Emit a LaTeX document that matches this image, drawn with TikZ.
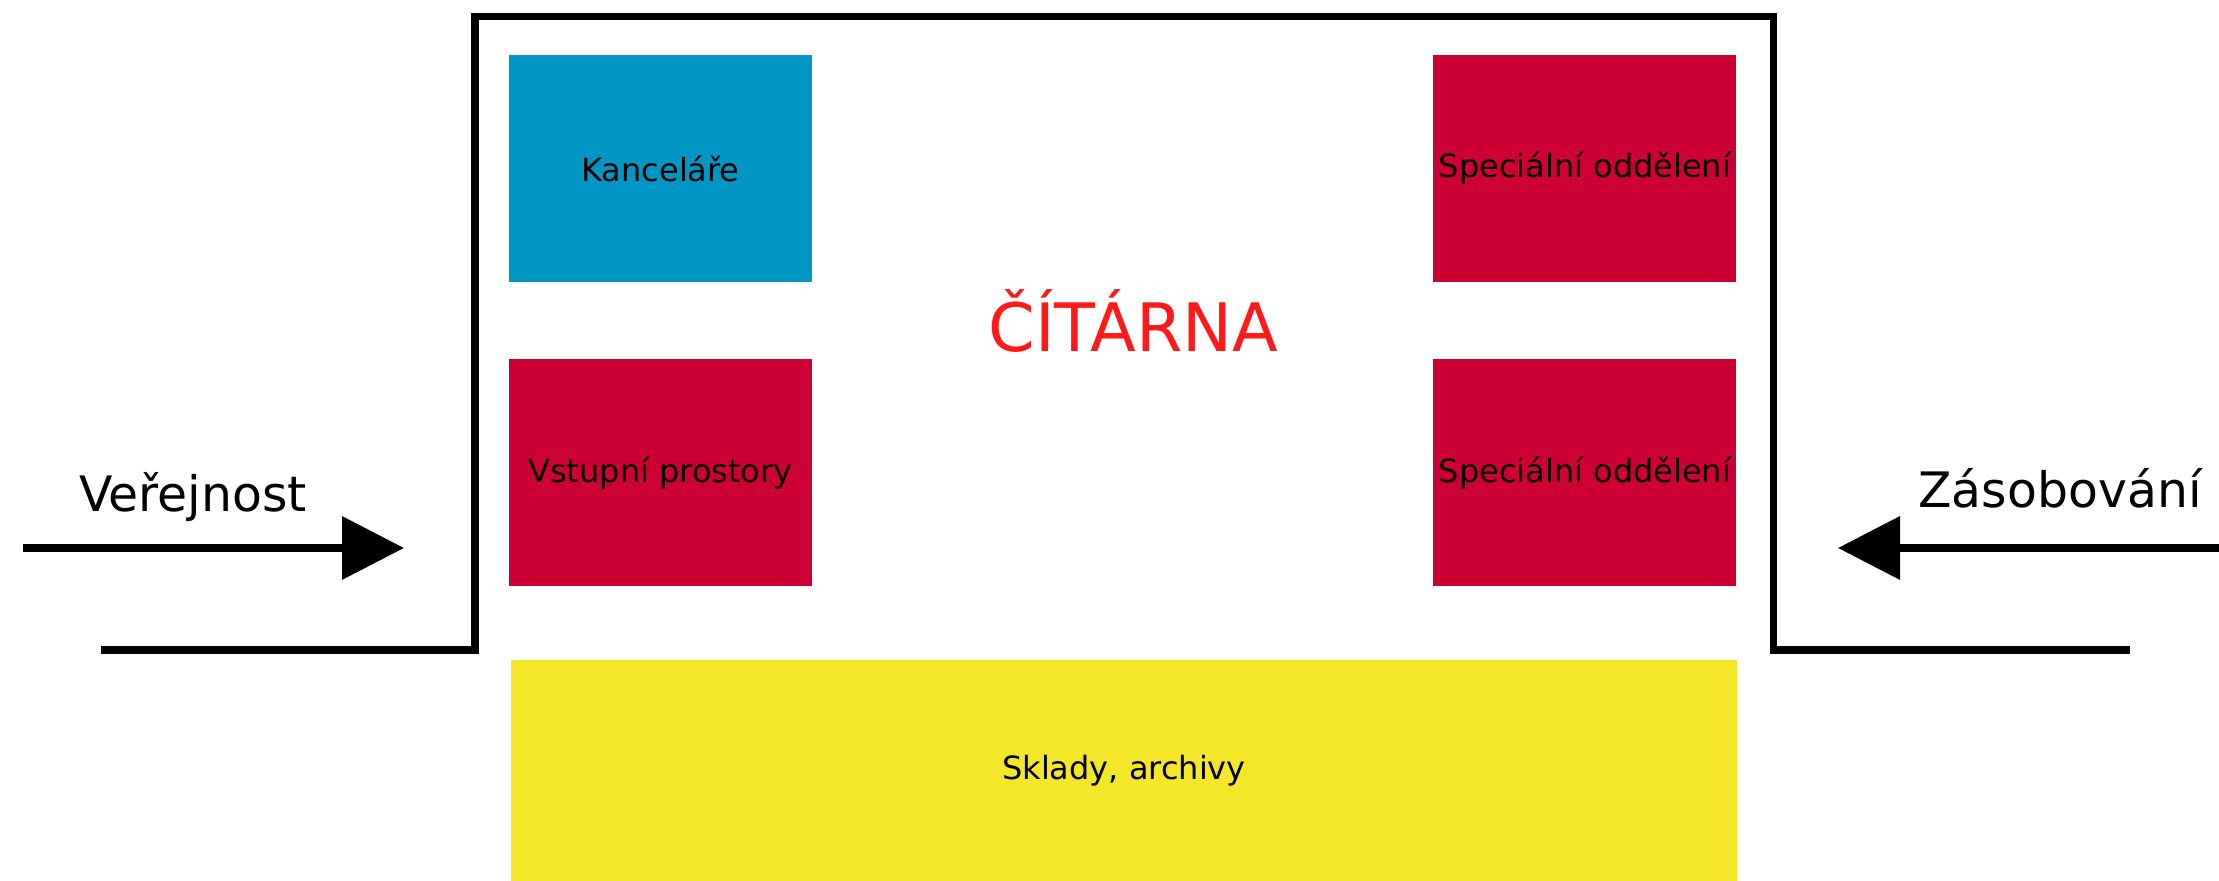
\documentclass[tikz,border=0pt]{standalone}
\usepackage{fontspec}
\setmainfont{DejaVu Sans}
\usepackage{tikz}
\usetikzlibrary{positioning, arrows.meta}
\definecolor{officeblue}{RGB}{0, 150, 196}
\definecolor{specialred}{RGB}{204, 0, 51}
\definecolor{storeyellow}{RGB}{244, 230, 40}
\definecolor{titlered}{RGB}{255, 26, 26}

\begin{document}
\begin{tikzpicture}[
    node distance=0.76cm and 6.2cm,
    room/.style={rectangle, draw=none, inner sep=0pt, font=\fontsize{9.1}{11}\selectfont, align=center, minimum width=3.03cm, minimum height=2.27cm},
    wall/.style={line width=2pt, black},
    arrow/.style={line width=2pt, -{Triangle[length=0.62cm, width=0.62cm]}},
    flowlabel/.style={font=\fontsize{13.9}{16}\selectfont, anchor=base, inner sep=0pt}
]
\useasboundingbox (0,0) rectangle (22.19,8.81);

% walls of the building
\draw[wall] (1.01,2.31) -- (4.75,2.31) -- (4.75,8.64) -- (17.73,8.64) -- (17.73,2.31) -- (21.30,2.31);

% rooms
\node[room, fill=officeblue] (office) at (6.605,7.125) {Kanceláře};
\node[room, fill=specialred, below=of office] (entry) {Vstupní prostory};
\node[room, fill=specialred, right=of office] (special1) {Speciální oddělení};
\node[room, fill=specialred, right=of entry] (special2) {Speciální oddělení};
\node[room, fill=storeyellow, minimum width=12.26cm, minimum height=2.21cm] (store) at (11.24,1.105) {Sklady, archivy};

\node[font=\fontsize{19}{22}\selectfont, text=titlered, anchor=base, inner sep=0pt] (reading) at (11.335,5.29) {ČÍTÁRNA};

% entrances
\coordinate (pubstart) at (0.23,3.33);
\coordinate (pubend) at (4.04,3.33);
\coordinate (supstart) at (22.19,3.33);
\coordinate (supend) at (18.38,3.33);
\draw[arrow] (pubstart) -- (pubend);
\draw[arrow] (supstart) -- (supend);
\node[flowlabel] (public) at (1.93,3.69) {Veřejnost};
\node[flowlabel] (supply) at (20.60,3.73) {Zásobování};

\end{tikzpicture}
\end{document}
